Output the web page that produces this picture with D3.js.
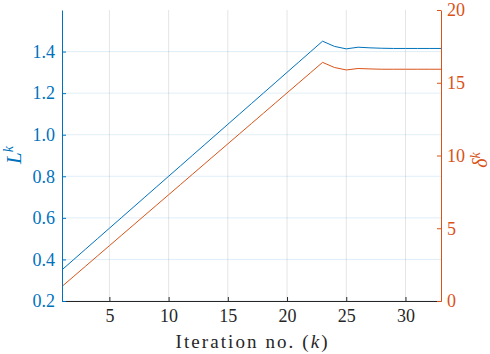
<!DOCTYPE html>
<html>
<head>
<meta charset="utf-8">
<script src="https://cdn.jsdelivr.net/npm/d3@7"></script>
</head>
<body style="margin:0; background:#fff">
<svg id="chart" width="490" height="354"></svg>
<script>
// iteration numbers
var iters = [1,2,3,4,5,6,7,8,9,10,11,12,13,14,15,16,17,18,19,20,21,22,23,24,25,26,27,28,29,30,31,32,33];
// L^k (left axis)
var lVals = [0.35,0.40,0.45,0.50,0.55,0.60,0.65,0.70,0.75,0.80,0.85,0.90,0.95,1.00,1.05,1.10,1.15,1.20,1.25,1.30,1.35,1.40,1.45,
             1.425,1.413,1.421,1.418,1.416,1.415,1.415,1.415,1.415,1.415];
// delta^k (right axis)
var dVals = [1.0,1.7,2.4,3.1,3.8,4.5,5.2,5.9,6.6,7.3,8.0,8.7,9.4,10.1,10.8,11.5,12.2,12.9,13.6,14.3,15.0,15.7,16.4,
             16.05,15.88,15.98,15.95,15.93,15.93,15.93,15.93,15.93,15.93];
var xTicks = [5,10,15,20,25,30];
var lTicks = [0.2,0.4,0.6,0.8,1,1.2,1.4];
var dTicks = [0,5,10,15,20];

var blue = "#0072BD", orange = "#D95319";
var serif = "Liberation Serif";

var svg = d3.select("#chart"),
    margin = {top: 10, right: 49, bottom: 53, left: 62};
var width = 490 - margin.left - margin.right;
var height = 354 - margin.top - margin.bottom;
var canvas = svg.append("g").attr("transform", "translate(" + margin.left + "," + margin.top + ")");

var x = d3.scaleLinear().domain([1, 33]).range([0, width]);
var yL = d3.scaleLinear().domain([0.2, 1.6]).range([height, 0]);
var yD = d3.scaleLinear().domain([0, 20]).range([height, 0]);

// grid
canvas.append("g").selectAll("line")
    .data(xTicks).enter().append("line")
    .attr("x1", function(d) { return x(d); }).attr("x2", function(d) { return x(d); })
    .attr("y1", 0).attr("y2", height)
    .attr("stroke", "#262626").attr("stroke-opacity", 0.12).attr("stroke-width", 1);
canvas.append("g").selectAll("line")
    .data(lTicks).enter().append("line")
    .attr("x1", 0).attr("x2", width)
    .attr("y1", function(d) { return yL(d); }).attr("y2", function(d) { return yL(d); })
    .attr("stroke", blue).attr("stroke-opacity", 0.12).attr("stroke-width", 1);

// lines
var lineL = d3.line().x(function(d, i) { return x(iters[i]); }).y(function(d) { return yL(d); });
var lineD = d3.line().x(function(d, i) { return x(iters[i]); }).y(function(d) { return yD(d); });
canvas.append("path").datum(lVals).attr("fill", "none").attr("stroke", blue).attr("stroke-width", 1).attr("d", lineL);
canvas.append("path").datum(dVals).attr("fill", "none").attr("stroke", orange).attr("stroke-width", 1).attr("d", lineD);

// axes
var xAxis = d3.axisBottom(x).tickValues(xTicks).tickSizeInner(-4).tickSizeOuter(0).tickPadding(8);
var gx = canvas.append("g").attr("transform", "translate(0," + height + ")").call(xAxis);
gx.selectAll("path, line").attr("stroke", "#262626");
gx.selectAll("text").attr("fill", "#262626").style("font-family", serif).style("font-size", "18px");

var lAxis = d3.axisLeft(yL).tickValues(lTicks).tickSizeInner(-4).tickSizeOuter(0).tickPadding(7);
var gl = canvas.append("g").call(lAxis);
gl.selectAll("path, line").attr("stroke", blue);
gl.selectAll("text").attr("fill", blue).style("font-family", serif).style("font-size", "18px");

var dAxis = d3.axisRight(yD).tickValues(dTicks).tickSizeInner(-4).tickSizeOuter(0).tickPadding(6);
var gd = canvas.append("g").attr("transform", "translate(" + width + ",0)").call(dAxis);
gd.selectAll("path, line").attr("stroke", orange);
gd.selectAll("text").attr("fill", orange).style("font-family", serif).style("font-size", "18px");

// labels
var xl = svg.append("text")
    .attr("x", margin.left + width / 2).attr("y", 348)
    .attr("text-anchor", "middle").attr("fill", "#262626")
    .attr("textLength", 152).attr("lengthAdjust", "spacing")
    .style("font-family", serif).style("font-size", "19px");
xl.append("tspan").text("Iteration no. (");
xl.append("tspan").style("font-style", "italic").text("k");
xl.append("tspan").text(")");

var ll = svg.append("text")
    .attr("transform", "translate(21,155) rotate(-90)")
    .attr("text-anchor", "middle").attr("fill", blue)
    .style("font-family", serif).style("font-size", "21px").style("font-style", "italic");
ll.append("tspan").text("L");
ll.append("tspan").attr("dy", -8).style("font-size", "14px").text("k");

var dl = svg.append("text")
    .attr("transform", "translate(487,160) rotate(-90)")
    .attr("text-anchor", "middle").attr("fill", orange)
    .style("font-family", serif).style("font-size", "20px").style("font-style", "italic");
dl.append("tspan").text("δ");
dl.append("tspan").attr("dy", -7).style("font-size", "14px").text("k");
</script>
</body>
</html>
